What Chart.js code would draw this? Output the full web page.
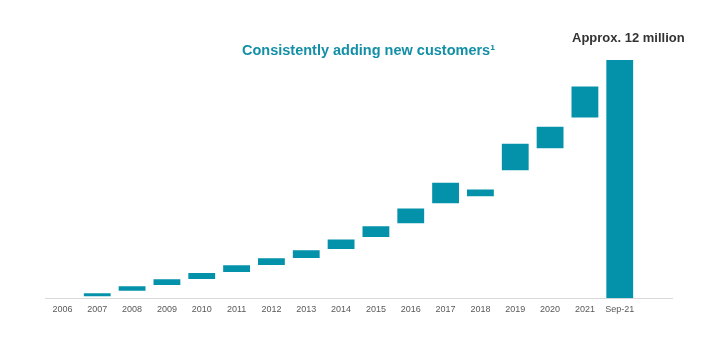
<!DOCTYPE html>
<html>
<head>
<meta charset="utf-8">
<script src="https://cdn.jsdelivr.net/npm/chart.js@4.4.1/dist/chart.umd.min.js"></script>
<style>
  html, body { margin: 0; padding: 0; background: #ffffff; }
  #wrap { position: relative; width: 706px; height: 358px; overflow: hidden; }
  #chart { position: absolute; left: 0; top: 0; }
  .txt { position: absolute; white-space: nowrap; font-family: 'Liberation Sans', Arial, sans-serif; font-weight: bold; }
  #title { left: 242px; top: 43px; font-size: 14.5px; line-height: 14px; color: #1390A7; }
  #note { left: 572px; top: 31px; font-size: 13px; line-height: 13px; color: #333333; }
</style>
</head>
<body>
<div id="wrap">
  <canvas id="chart" width="706" height="358"></canvas>
  <div id="title" class="txt">Consistently adding new customers¹</div>
  <div id="note" class="txt">Approx. 12 million</div>
</div>
<script>
// Categories (the trailing empty slot keeps the axis line running past Sep-21)
const categories = ['2006','2007','2008','2009','2010','2011','2012','2013','2014','2015','2016','2017','2018','2019','2020','2021','Sep-21',''];
// Floating bar bottoms and tops (millions of customers)
const barLows  = [null, 0.10, 0.37, 0.67, 0.97, 1.32, 1.67, 2.02, 2.48, 3.08, 3.78, 4.78, 5.14, 6.44, 7.55, 9.10, 0, null];
const barHighs = [null, 0.25, 0.60, 0.95, 1.27, 1.66, 2.01, 2.41, 2.96, 3.62, 4.52, 5.82, 5.47, 7.78, 8.64, 10.66, 12, null];

const floatingData = categories.map((c, i) =>
  (barLows[i] === null || barHighs[i] === null) ? null : [barLows[i], barHighs[i]]
);

Chart.defaults.font.family = "'Liberation Sans', Arial, sans-serif";

new Chart(document.getElementById('chart'), {
  type: 'bar',
  data: {
    labels: categories,
    datasets: [{
      data: floatingData,
      backgroundColor: '#0492AB',
      borderWidth: 0,
      barPercentage: 0.77,
      categoryPercentage: 1.0
    }]
  },
  options: {
    responsive: false,
    animation: false,
    layout: { padding: { left: 45, right: 34, top: 60, bottom: 37 } },
    plugins: { legend: { display: false }, tooltip: { enabled: false }, title: { display: false } },
    scales: {
      x: {
        grid: { display: false, drawTicks: false, tickLength: 0 },
        border: { display: true, color: '#D9D9D9', width: 1 },
        ticks: { color: '#595959', font: { size: 9 }, padding: 6, maxRotation: 0, autoSkip: false }
      },
      y: {
        display: false,
        min: 0,
        max: 12
      }
    }
  }
});
</script>
</body>
</html>
